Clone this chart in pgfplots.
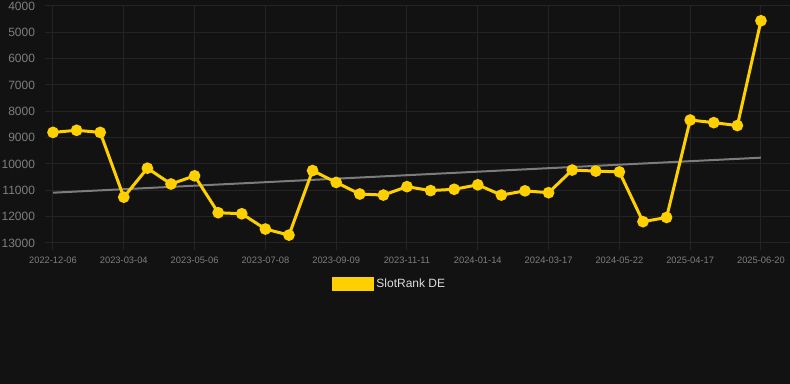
\documentclass[border=0pt]{standalone}
\usepackage{pgfplots}
\pgfplotsset{compat=1.18}
\usepackage{fontspec}
\setmainfont{Liberation Sans}
\definecolor{bg}{HTML}{121212}
\definecolor{gridc}{HTML}{242424}
\definecolor{tickc}{HTML}{7E7E7E}
\definecolor{gold}{HTML}{FFD000}
\definecolor{trend}{HTML}{7C7C7C}
\definecolor{legtext}{HTML}{DDDDDD}
\begin{document}
\begin{tikzpicture}
\fill[bg] (0pt,0pt) rectangle (592.5pt,-288pt);
\begin{axis}[
  at={(33.75pt,-4.5pt)}, anchor=north west,
  scale only axis, width=558.75pt, height=177.75pt,
  xmin=-0.339, xmax=31.23,
  ymin=4000, ymax=13000, y dir=reverse,
  axis line style={draw=none},
  xtick={0,3,...,30},
  xticklabels={2022-12-06,2023-03-04,2023-05-06,2023-07-08,2023-09-09,2023-11-11,2024-01-14,2024-03-17,2024-05-22,2025-04-17,2025-06-20},
  ytick={4000,5000,...,13000},
  grid=major,
  major grid style={draw=gridc, line width=0.75pt},
  xtick pos=bottom, ytick pos=left,
  xtick style={draw=gridc, line width=0.75pt},
  ytick style={draw=none},
  tick align=outside,
  major tick length=5pt,
  xticklabel style={font=\fontsize{7pt}{8pt}\selectfont, text=tickc, yshift=-2pt},
  yticklabel style={font=\fontsize{9pt}{10pt}\selectfont, text=tickc, xshift=1pt},
  /pgf/number format/assume math mode=true,
  /pgf/number format/set thousands separator={},
  scaled y ticks=false,
  clip=false,
  legend style={at={(0.463,-0.173)}, anchor=center, draw=none, fill=none,
    text=legtext, font=\fontsize{9pt}{10pt}\selectfont},
  legend image code/.code={\fill[gold] (0pt,-4.1pt) rectangle (29pt,4.1pt);},
]
\addplot[trend, line width=1.5pt, forget plot] coordinates {(0,11090) (30,9760)};
\addplot[gold, line width=2.25pt, mark=*, mark size=3.2pt, mark options={fill=gold, draw=gold}] coordinates {
(0,8800) (1,8720) (2,8800) (3,11260) (4,10160) (5,10760) (6,10450)
(7,11850) (8,11890) (9,12470) (10,12700) (11,10250) (12,10700) (13,11140)
(14,11180) (15,10860) (16,11010) (17,10960) (18,10790) (19,11180) (20,11020)
(21,11090) (22,10230) (23,10270) (24,10300) (25,12190) (26,12030) (27,8330)
(28,8430) (29,8540) (30,4560)
};
\addlegendentry{SlotRank DE}
\end{axis}
\pgfresetboundingbox
\path (0pt,0pt) rectangle (592.5pt,-288pt);
\end{tikzpicture}
\end{document}
